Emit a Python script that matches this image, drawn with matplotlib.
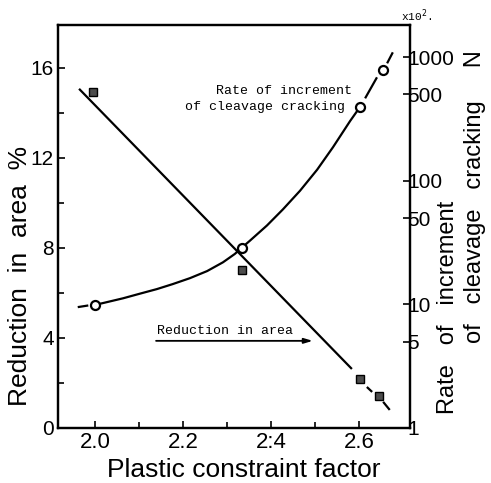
import numpy as np
import matplotlib
matplotlib.use("Agg")
import matplotlib.pyplot as plt
from matplotlib.ticker import FixedLocator, NullLocator

# reduction in area (left axis, %)
ra_line_x = [1.964, 2.584]
ra_line_y = [15.07, 2.62]
ra_dash_x = [[2.618, 2.630], [2.655, 2.670]]
ra_dash_y = [[1.82, 1.60], [1.16, 0.80]]
ra_pts_x = [1.995, 2.334, 2.602, 2.645]
ra_pts_y = [14.93, 7.02, 2.18, 1.42]

# rate of increment of cleavage cracking (right axis, x10^2)
cc_curve_x = [2.000, 2.018, 2.064, 2.102, 2.141, 2.177, 2.216, 2.255, 2.291,
              2.318, 2.334, 2.352, 2.391, 2.427, 2.466, 2.505, 2.541, 2.580,
              2.602]
cc_curve_y = [9.9, 10.24, 11.2, 12.2, 13.3, 14.6, 16.3, 18.6, 21.9,
              25.6, 28.8, 32.7, 43.5, 58.6, 83.0, 123, 187, 305,
              394]
cc_dash_x = [[1.961, 1.985], [2.614, 2.641], [2.664, 2.677]]
cc_dash_y = [[9.5, 9.8], [465, 688], [893, 1096]]
cc_pts_x = [2.000, 2.334, 2.602, 2.655]
cc_pts_y = [9.9, 28.8, 394, 784]

xticks = [2.0, 2.2, 2.4, 2.6]
xticklabels = ["2.0", "2.2", "2:4", "2.6"]
yticks_left = [0, 4, 8, 12, 16]
yticks_right = [1, 5, 10, 50, 100, 500, 1000]

sans = ["Liberation Sans", "DejaVu Sans"]
mono = ["Liberation Mono", "DejaVu Sans Mono"]

fig = plt.figure(figsize=(4.91, 4.83), dpi=100)
ax = fig.add_axes([0.118, 0.114, 0.717, 0.834])
ax2 = ax.twinx()

ax.set_xlim(1.916, 2.716)
ax.set_ylim(0, 17.9)
ax2.set_yscale("log")
ax2.set_ylim(1, 1820)

# reduction in area
ax.plot(ra_line_x, ra_line_y, color="black", lw=1.6, solid_capstyle="butt")
for dx, dy in zip(ra_dash_x, ra_dash_y):
    ax.plot(dx, dy, color="black", lw=1.6, solid_capstyle="butt")
ax.plot(ra_pts_x, ra_pts_y, ls="none", marker="s", ms=5.5, mfc="0.3",
        mec="black", mew=1.0, zorder=5)

# cleavage cracking
ax2.plot(cc_curve_x, cc_curve_y, color="black", lw=1.6)
for dx, dy in zip(cc_dash_x, cc_dash_y):
    ax2.plot(dx, dy, color="black", lw=1.6, solid_capstyle="butt")
ax2.plot(cc_pts_x, cc_pts_y, ls="none", marker="o", ms=6.5, mfc="white",
         mec="black", mew=1.6, zorder=5)

# annotations
ax.text(2.584, 14.98, "Rate of increment", family=mono, fontsize=9.5,
        ha="right", va="center")
ax.text(2.568, 14.27, "of cleavage cracking", family=mono, fontsize=9.5,
        ha="right", va="center")
ax.text(2.141, 4.05, "Reduction in area", family=mono, fontsize=9.5,
        ha="left", va="bottom")
ax.annotate("", xy=(2.495, 3.87), xytext=(2.139, 3.87),
            arrowprops=dict(arrowstyle="-|>,head_length=0.5,head_width=0.15",
                            color="black", lw=1.3, shrinkA=0, shrinkB=0))

# axes styling
for a in (ax, ax2):
    for s in a.spines.values():
        s.set_linewidth(1.6)

ax.xaxis.set_major_locator(FixedLocator(xticks))
ax.set_xticklabels(xticklabels, family=sans, fontsize=16)
ax.xaxis.set_minor_locator(FixedLocator([2.1, 2.3, 2.5]))
ax.yaxis.set_major_locator(FixedLocator(yticks_left))
ax.set_yticklabels([str(v) for v in yticks_left], family=sans, fontsize=15)
ax.yaxis.set_minor_locator(FixedLocator([2, 6, 10, 14]))
ax.tick_params(which="both", direction="in", width=1.2)
ax.tick_params(which="major", length=5)
ax.tick_params(which="minor", length=4)
ax.tick_params(axis="y", pad=3)
ax.tick_params(axis="x", pad=3)

ax2.yaxis.set_major_locator(FixedLocator(yticks_right))
ax2.yaxis.set_minor_locator(NullLocator())
ax2.set_yticklabels([str(v) for v in yticks_right], family=sans, fontsize=15)
ax2.tick_params(which="both", direction="in", width=1.2, length=5, pad=-2)

# axis titles
fig.text(0.497, 0.027, "Plastic constraint factor", family=sans, fontsize=19,
         ha="center", va="center")
fig.text(0.041, 0.4286, "Reduction  in  area  %", family=sans, fontsize=19,
         rotation=90, ha="center", va="center")
fig.text(0.912, 0.364, "Rate   of   increment", family=sans, fontsize=17,
         rotation=90, ha="center", va="center")
fig.text(0.967, 0.592, "of   cleavage   cracking     N", family=sans,
         fontsize=17, rotation=90, ha="center", va="center")
fig.text(0.848, 0.957, r"x10$^{2}$.", family=mono, fontsize=8,
         ha="center", va="baseline")

fig.savefig("out.png", dpi=100)
